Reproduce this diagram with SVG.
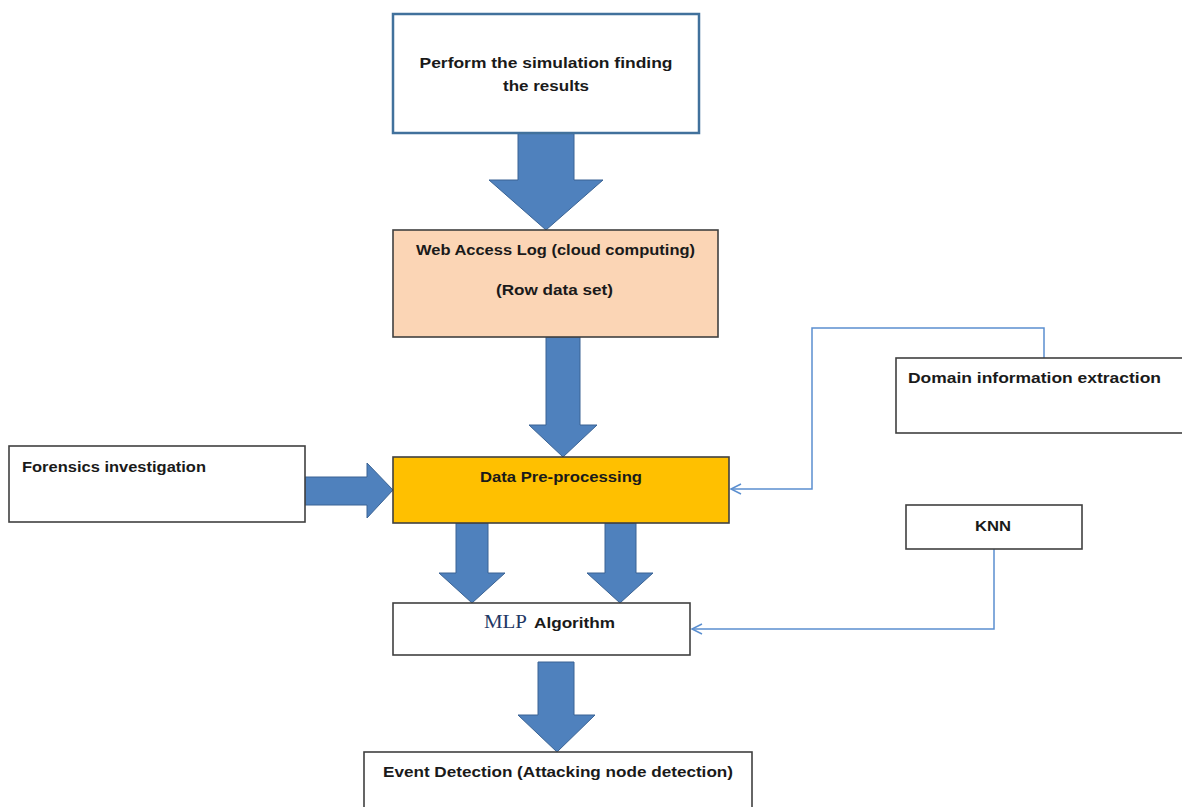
<svg xmlns="http://www.w3.org/2000/svg" width="1182" height="807" viewBox="0 0 1182 807">
<defs>
<style>
.box{fill:#fff;stroke:#404040;stroke-width:1.6}
.t{font-family:"Liberation Sans",Arial,sans-serif;font-weight:bold;font-size:15px;fill:#1a1a1a}
.arr{fill:#4F81BD;stroke:#3A6394;stroke-width:1}
.con{fill:none;stroke:#5B8FD0;stroke-width:1.5}
</style>
<marker id="open" markerWidth="14" markerHeight="14" refX="12" refY="7" orient="auto" markerUnits="userSpaceOnUse">
<path d="M2,2 L12,7 L2,12" fill="none" stroke="#5B8FD0" stroke-width="1.5"/>
</marker>
</defs>
<rect width="1182" height="807" fill="#fff"/>

<g id="connectors">
<polygon class="arr" points="518,133 574,133 574,180 603,180 546,230 489,180 518,180"/>
<polygon class="arr" points="546,337 580,337 580,425 597,425 563,457 529,425 546,425"/>
<polygon class="arr" points="305,477 367,477 367,463 393,490 367,518 367,505 305,505"/>
<polygon class="arr" points="456,523 488,523 488,573 505,573 472,603 439,573 456,573"/>
<polygon class="arr" points="605,523 636,523 636,573 653,573 620,603 587,573 605,573"/>
<polygon class="arr" points="538,662 574,662 574,715 595,715 557,752 518,715 538,715"/>
<polyline class="con" points="1044,358 1044,328 812,328 812,489 731,489" marker-end="url(#open)"/>
<polyline class="con" points="994,549 994,629 692,629" marker-end="url(#open)"/>
</g>

<g id="node-simulation">
<rect x="393" y="14" width="306" height="119" fill="#fff" stroke="#41719C" stroke-width="2.5"/>
<text class="t" x="546" y="68" text-anchor="middle" textLength="253" lengthAdjust="spacingAndGlyphs">Perform  the simulation finding</text>
<text class="t" x="546" y="91" text-anchor="middle" textLength="86" lengthAdjust="spacingAndGlyphs">the results</text>
</g>

<g id="node-weblog">
<rect x="393" y="230" width="325" height="107" fill="#FBD5B5" stroke="#404040" stroke-width="1.6"/>
<text class="t" x="555.5" y="255" text-anchor="middle" textLength="279" lengthAdjust="spacingAndGlyphs">Web Access Log (cloud computing)</text>
<text class="t" x="554.5" y="295" text-anchor="middle" textLength="117" lengthAdjust="spacingAndGlyphs">(Row data set)</text>
</g>

<g id="node-preprocessing">
<rect x="393" y="457" width="336" height="66" fill="#FFC000" stroke="#404040" stroke-width="1.6"/>
<text class="t" x="561" y="482" text-anchor="middle" textLength="162" lengthAdjust="spacingAndGlyphs">Data Pre-processing</text>
</g>

<g id="node-forensics">
<rect class="box" x="9" y="446" width="296" height="76"/>
<text class="t" x="22" y="472" textLength="184" lengthAdjust="spacingAndGlyphs">Forensics investigation</text>
</g>

<g id="node-domain">
<rect class="box" x="896" y="358" width="290" height="75"/>
<text class="t" x="908" y="383" textLength="253" lengthAdjust="spacingAndGlyphs">Domain information  extraction</text>
</g>

<g id="node-knn">
<rect class="box" x="906" y="505" width="176" height="44"/>
<text class="t" x="993" y="531" text-anchor="middle" textLength="36" lengthAdjust="spacingAndGlyphs">KNN</text>
</g>

<g id="node-mlp">
<rect class="box" x="393" y="603" width="297" height="52"/>
<text x="484" y="628" font-family="'Liberation Serif','Times New Roman',serif" font-size="18" fill="#1F3864" textLength="43" lengthAdjust="spacingAndGlyphs">MLP</text>
<text class="t" x="534" y="628" textLength="81" lengthAdjust="spacingAndGlyphs">Algorithm</text>
</g>

<g id="node-event">
<rect class="box" x="364" y="752" width="388" height="70"/>
<text class="t" x="383" y="777" textLength="350" lengthAdjust="spacingAndGlyphs">Event Detection (Attacking node detection)</text>
</g>
</svg>
